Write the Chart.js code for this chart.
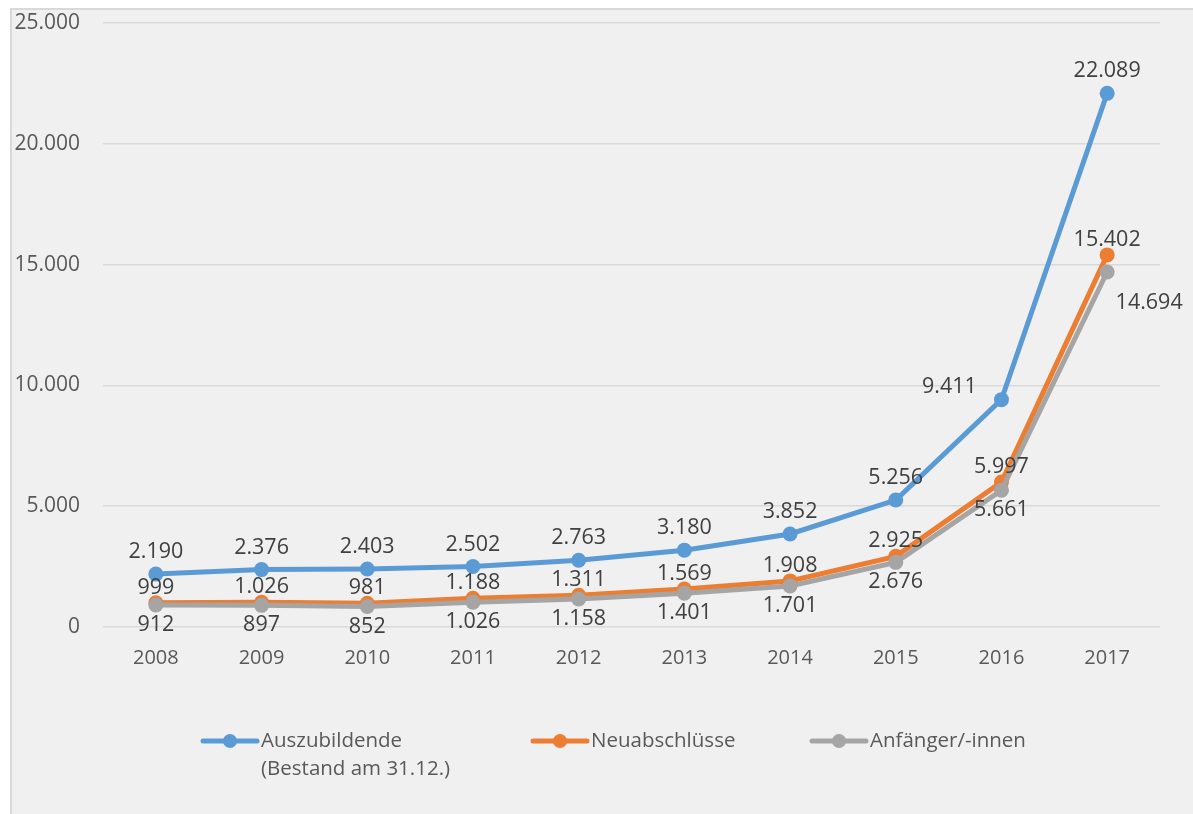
<!DOCTYPE html>
<html lang="de">
<head>
<meta charset="utf-8">
<script src="https://cdn.jsdelivr.net/npm/chart.js@4/dist/chart.umd.min.js"></script>
<style>
  html, body { margin: 0; padding: 0; background: #fff; }
  #box {
    position: absolute; left: 10px; top: 8px; width: 1183px; height: 806px;
    background: #f0f0f0; border-left: 2px solid #d9d9d9; border-top: 2px solid #d9d9d9;
    box-sizing: border-box;
  }
  canvas { display: block; }
</style>
</head>
<body>
<div id="box"><canvas id="chart" width="1181" height="804"></canvas></div>
<script>
const years = ['2008', '2009', '2010', '2011', '2012', '2013', '2014', '2015', '2016', '2017'];
const auszubildende = [2190, 2376, 2403, 2502, 2763, 3180, 3852, 5256, 9411, 22089];
const neuabschluesse = [999, 1026, 981, 1188, 1311, 1569, 1908, 2925, 5997, 15402];
const anfaenger = [912, 897, 852, 1026, 1158, 1401, 1701, 2676, 5661, 14694];
const yTicks = [0, 5000, 10000, 15000, 20000, 25000];

// where the data label sits relative to its point
const posBlue = ['above', 'above', 'above', 'above', 'above', 'above', 'above', 'above', 'left', 'above'];
const posOrange = ['above', 'above', 'above', 'above', 'above', 'above', 'above', 'above', 'above', 'above'];
const posGray = ['below', 'below', 'below', 'below', 'below', 'below', 'below', 'below', 'below', 'right'];

const legendNames = [['Auszubildende', '(Bestand am 31.12.)'], ['Neuabschlüsse'], ['Anfänger/-innen']];

const BLUE = '#5b9bd5';
const ORANGE = '#ed7d31';
const GRAY = '#a5a5a5';
const FONT = "'Open Sans', sans-serif";

function fmt(v) {
  return String(v).replace(/\B(?=(\d{3})+(?!\d))/g, '.');
}

const dataLabels = {
  id: 'dataLabels',
  afterDatasetsDraw(chart) {
    const ctx = chart.ctx;
    ctx.save();
    ctx.font = '21.5px ' + FONT;
    ctx.fillStyle = '#404040';
    ctx.textAlign = 'center';
    ctx.textBaseline = 'middle';
    chart.data.datasets.forEach((ds, i) => {
      const meta = chart.getDatasetMeta(i);
      meta.data.forEach((pt, j) => {
        const p = ds.labelPos[j];
        let x = pt.x, y = pt.y;
        if (p === 'above') y -= ds.labelGap;
        if (p === 'below') y += ds.labelGap;
        if (p === 'left') { x -= 52; y -= 13; }
        if (p === 'right') { x += 42; y += 31; }
        ctx.fillText(fmt(ds.data[j]), x, y);
      });
    });
    ctx.restore();
  },
};

const bottomLegend = {
  id: 'bottomLegend',
  afterDraw(chart) {
    const ctx = chart.ctx;
    const y = chart.chartArea.bottom + 114;
    const starts = [191, 521, 800];
    ctx.save();
    ctx.font = '20.5px ' + FONT;
    ctx.textBaseline = 'middle';
    chart.data.datasets.forEach((ds, i) => {
      const x = starts[i];
      ctx.strokeStyle = ds.borderColor;
      ctx.lineWidth = 5;
      ctx.lineCap = 'round';
      ctx.beginPath();
      ctx.moveTo(x, y);
      ctx.lineTo(x + 54, y);
      ctx.stroke();
      ctx.fillStyle = ds.borderColor;
      ctx.beginPath();
      ctx.arc(x + 27, y, 7, 0, Math.PI * 2);
      ctx.fill();
      ctx.fillStyle = '#595959';
      legendNames[i].forEach((line, k) => {
        ctx.fillText(line, x + 58, y + k * 28);
      });
    });
    ctx.restore();
  },
};

const ctx = document.getElementById('chart').getContext('2d');
new Chart(ctx, {
  type: 'line',
  data: {
    labels: years,
    datasets: [
      {
        label: 'Auszubildende (Bestand am 31.12.)',
        data: auszubildende,
        labelPos: posBlue,
        labelGap: 22,
        borderColor: BLUE,
        backgroundColor: BLUE,
        order: 2,
      },
      {
        label: 'Neuabschlüsse',
        data: neuabschluesse,
        labelPos: posOrange,
        labelGap: 15,
        borderColor: ORANGE,
        backgroundColor: ORANGE,
        order: 1,
      },
      {
        label: 'Anfänger/-innen',
        data: anfaenger,
        labelPos: posGray,
        labelGap: 20,
        borderColor: GRAY,
        backgroundColor: GRAY,
        order: 0,
      },
    ],
  },
  options: {
    responsive: false,
    animation: false,
    events: [],
    elements: {
      line: { borderWidth: 5, tension: 0 },
      point: { radius: 7.5, borderWidth: 0 },
    },
    layout: { padding: { left: 0, right: 33, top: 13, bottom: 137 } },
    plugins: {
      legend: { display: false },
      tooltip: { enabled: false },
    },
    scales: {
      x: {
        offset: true,
        grid: { display: false, drawTicks: false },
        border: { display: false },
        ticks: { color: '#595959', font: { family: FONT, size: 20 }, padding: 19 },
        afterFit: (s) => { s.height = 50; s.paddingLeft = 0; s.paddingRight = 0; },
      },
      y: {
        min: 0,
        max: 25000,
        afterBuildTicks: (s) => { s.ticks = yTicks.map((v) => ({ value: v })); },
        grid: { color: '#d9d9d9', lineWidth: 1.5, drawTicks: false },
        border: { display: false },
        ticks: {
          color: '#595959',
          font: { family: FONT, size: 21 },
          padding: 23,
          callback: (v) => fmt(v),
        },
        afterFit: (s) => { s.width = 91; s.paddingTop = 0; s.paddingBottom = 0; },
      },
    },
  },
  plugins: [dataLabels, bottomLegend],
});
</script>
</body>
</html>
